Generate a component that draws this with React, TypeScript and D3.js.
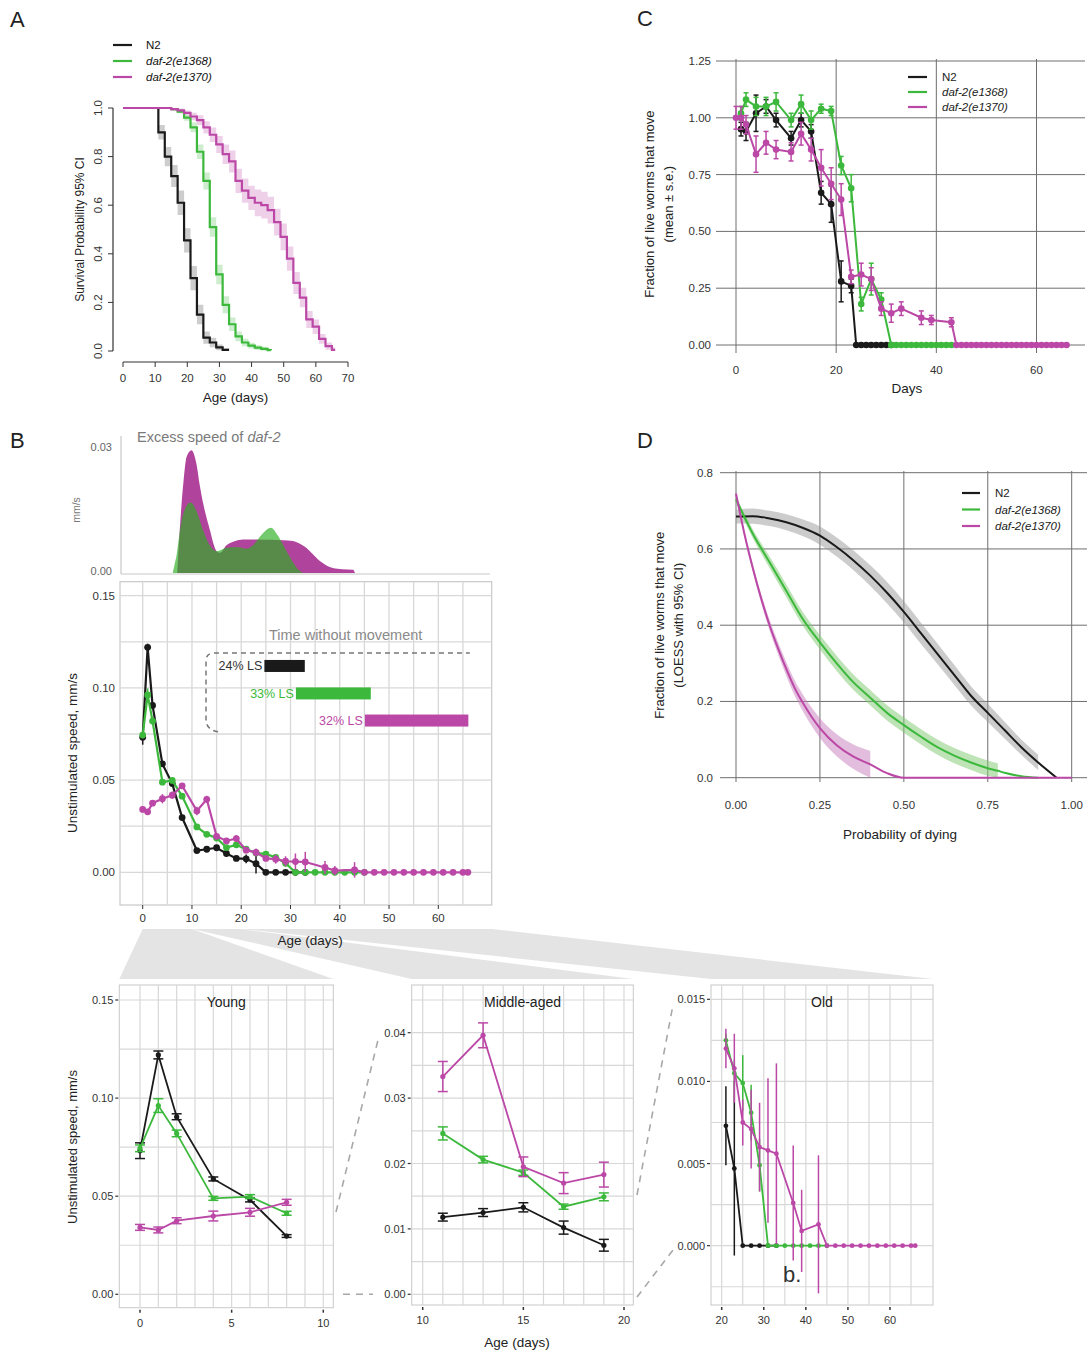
import React from 'react';
import * as d3 from 'd3';

const FONT = '"Liberation Sans", Arial, Helvetica, sans-serif';
const C_N2 = '#1a1a1a';
const C_1368 = '#3cb93c';
const C_1370 = '#bb48a6';
const strainColors = [C_N2, C_1368, C_1370];
const strainNames = ['N2', 'daf-2(e1368)', 'daf-2(e1370)'];

// ---- A: survival (Kaplan-Meier steps + CI half width)
const kmDaysN2 = [0, 11, 13, 15, 17, 19, 21, 23, 25, 27, 29, 31, 33];
const kmN2 = [1, 0.9, 0.8, 0.72, 0.61, 0.455, 0.3, 0.15, 0.055, 0.035, 0.015, 0.005, 0.005];
const kmN2Ci = [0, 0.03, 0.04, 0.045, 0.05, 0.05, 0.05, 0.04, 0.025, 0.02, 0.012, 0.006, 0.006];
const kmDays1368 = [0, 15, 17, 19, 21, 23, 25, 27, 29, 31, 33, 35, 37, 39, 41, 43, 45, 46];
const km1368 = [1, 0.995, 0.985, 0.96, 0.92, 0.82, 0.7, 0.51, 0.315, 0.19, 0.11, 0.06, 0.035, 0.022, 0.014, 0.009, 0.004, 0.003];
const km1368Ci = [0, 0.005, 0.008, 0.012, 0.02, 0.03, 0.035, 0.04, 0.04, 0.035, 0.028, 0.02, 0.015, 0.012, 0.01, 0.008, 0.005, 0.005];
const kmDays1370 = [0, 15, 17, 19, 21, 23, 25, 27, 29, 31, 33, 35, 37, 39, 41, 43, 45, 47, 49, 51, 53, 55, 57, 59, 61, 63, 65, 66];
const km1370 = [1, 0.995, 0.99, 0.98, 0.965, 0.95, 0.92, 0.89, 0.85, 0.81, 0.78, 0.7, 0.66, 0.63, 0.61, 0.6, 0.58, 0.53, 0.47, 0.38, 0.28, 0.22, 0.13, 0.1, 0.05, 0.02, 0.005, 0.005];
const km1370Ci = [0, 0.005, 0.008, 0.01, 0.015, 0.02, 0.025, 0.03, 0.035, 0.04, 0.045, 0.05, 0.05, 0.05, 0.055, 0.055, 0.055, 0.055, 0.055, 0.05, 0.045, 0.04, 0.035, 0.03, 0.02, 0.015, 0.01, 0.01];

// ---- B: unstimulated speed (mean, s.e.)
const spDaysN2 = [0, 1, 2, 4, 6, 8, 11, 13, 15, 17, 19, 21, 23, 25, 27, 29, 31, 33];
const spN2 = [0.0732, 0.122, 0.0905, 0.0588, 0.0481, 0.0297, 0.0118, 0.0125, 0.0133, 0.0102, 0.0075, 0.0073, 0.0047, 0, 0, 0, 0, 0];
const spN2Se = [0.004, 0.002, 0.0015, 0.001, 0.001, 0.0007, 0.0006, 0.0006, 0.0007, 0.001, 0.0009, 0.0024, 0.0053, 0, 0, 0, 0, 0];
const spDays1368 = [0, 1, 2, 4, 6, 8, 11, 13, 15, 17, 19, 21, 23, 25, 27, 29, 31, 33, 35, 37, 39, 41, 43, 45];
const sp1368 = [0.0744, 0.0962, 0.082, 0.0489, 0.0498, 0.0413, 0.0246, 0.0206, 0.0186, 0.0134, 0.0149, 0.0125, 0.0105, 0.0099, 0.0081, 0.0049, 0, 0, 0, 0, 0, 0, 0, 0];
const sp1368Se = [0.0017, 0.0035, 0.0017, 0.001, 0.001, 0.001, 0.001, 0.0005, 0.0004, 0.0004, 0.0006, 0.0004, 0.0008, 0.0017, 0.0017, 0.0016, 0, 0, 0, 0, 0, 0, 0, 0];
const spDays1370 = [0, 1, 2, 4, 6, 8, 11, 13, 15, 17, 19, 21, 23, 25, 27, 29, 31, 33, 37, 39, 43, 45, 47, 49, 51, 53, 55, 57, 59, 61, 63, 65, 66];
const sp1370 = [0.0341, 0.0328, 0.0375, 0.0399, 0.0418, 0.0469, 0.0333, 0.0396, 0.0195, 0.017, 0.0183, 0.012, 0.0108, 0.0075, 0.0071, 0.006, 0.0058, 0.0056, 0.0026, 0.0009, 0.0013, 0, 0, 0, 0, 0, 0, 0, 0, 0, 0, 0, 0];
const sp1370Se = [0.0015, 0.0015, 0.0015, 0.0025, 0.002, 0.0015, 0.0023, 0.0019, 0.0015, 0.0016, 0.0019, 0.0012, 0.0021, 0.0014, 0.0024, 0.0027, 0.0044, 0.0055, 0.0035, 0.0025, 0.0042, 0, 0, 0, 0, 0, 0, 0, 0, 0, 0, 0, 0];

// excess speed of daf-2 over N2
const exDays1370 = [7.0, 7.3, 7.8, 8.3, 8.9, 9.9, 10.9, 11.6, 12.3, 13, 13.7, 14.3, 15, 15.7, 17, 18.5, 20.4, 23, 26, 28.5, 30.5, 32, 33.2, 34.5, 35.9, 37.3, 38.6, 40.5, 42.7, 43.1];
const ex1370 = [0, 0.006, 0.015, 0.022, 0.0276, 0.0292, 0.026, 0.0208, 0.0164, 0.013, 0.01, 0.0072, 0.0052, 0.0048, 0.0066, 0.0075, 0.008, 0.008, 0.0079, 0.0078, 0.0076, 0.0069, 0.006, 0.0045, 0.0029, 0.0018, 0.0012, 0.0009, 0.0008, 0];
const exDays1368 = [6.1, 6.5, 6.9, 7.4, 7.9, 8.9, 9.75, 10.9, 12.3, 13.7, 15, 17, 19, 21.1, 22.4, 23.5, 24.5, 26, 27.5, 29.2, 30.6, 31.6, 32.6];
const ex1368 = [0, 0.0022, 0.0044, 0.0088, 0.0124, 0.016, 0.0168, 0.0148, 0.01, 0.0064, 0.0052, 0.006, 0.0062, 0.0058, 0.0066, 0.0082, 0.0096, 0.0108, 0.0088, 0.0052, 0.0024, 0.0008, 0];

// time without movement
const noMoveStart = [24.7, 31.1, 45.1];
const noMoveEnd = [32.9, 46.3, 66.1];
const noMoveLabels = ['24% LS', '33% LS', '32% LS'];

// ---- C: fraction moving (mean, s.e.)
const mvDaysN2 = [1, 2, 4, 6, 8, 11, 13, 15, 17, 19, 21, 23, 24, 25, 26, 27, 28, 29, 30, 31];
const mvN2 = [0.95, 0.94, 1.02, 1.05, 0.99, 0.91, 0.99, 0.94, 0.67, 0.62, 0.28, 0.26, 0, 0, 0, 0, 0, 0, 0, 0];
const mvN2Se = [0.03, 0.04, 0.08, 0.03, 0.03, 0.03, 0.03, 0.03, 0.05, 0.08, 0.09, 0.03, 0, 0, 0, 0, 0, 0, 0, 0];
const mvDays1368 = [1, 2, 4, 6, 8, 11, 13, 15, 17, 19, 21, 23, 25, 27, 29, 31, 32, 33, 34, 35, 36, 37, 38, 39, 40, 41, 42, 43];
const mv1368 = [1.02, 1.08, 1.05, 1.05, 1.07, 0.99, 1.06, 0.99, 1.04, 1.03, 0.79, 0.69, 0.18, 0.29, 0.2, 0, 0, 0, 0, 0, 0, 0, 0, 0, 0, 0, 0, 0];
const mv1368Se = [0.03, 0.03, 0.04, 0.04, 0.04, 0.03, 0.04, 0.04, 0.02, 0.02, 0.04, 0.06, 0.03, 0.07, 0.03, 0, 0, 0, 0, 0, 0, 0, 0, 0, 0, 0, 0, 0];
const mvDays1370 = [0, 1, 2, 4, 6, 8, 11, 13, 15, 17, 19, 21, 23, 25, 27, 29, 31, 33, 37, 39, 43, 44, 45, 46, 47, 48, 49, 50, 51, 52, 53, 54, 55, 56, 57, 58, 59, 60, 61, 62, 63, 64, 65, 66];
const mv1370 = [1.0, 1.0, 0.97, 0.84, 0.89, 0.86, 0.85, 0.93, 0.86, 0.78, 0.71, 0.64, 0.3, 0.31, 0.29, 0.16, 0.14, 0.16, 0.12, 0.11, 0.1, 0, 0, 0, 0, 0, 0, 0, 0, 0, 0, 0, 0, 0, 0, 0, 0, 0, 0, 0, 0, 0, 0, 0];
const mv1370Se = [0.05, 0.05, 0.04, 0.08, 0.05, 0.04, 0.04, 0.05, 0.05, 0.08, 0.07, 0.07, 0.03, 0.05, 0.05, 0.03, 0.04, 0.03, 0.03, 0.02, 0.02, 0, 0, 0, 0, 0, 0, 0, 0, 0, 0, 0, 0, 0, 0, 0, 0, 0, 0, 0, 0, 0, 0, 0];

// ---- D: LOESS fraction moving vs probability of dying
const pdN2 = [0, 0.05, 0.1, 0.15, 0.2, 0.25, 0.3, 0.35, 0.4, 0.45, 0.5, 0.55, 0.6, 0.65, 0.7, 0.75, 0.8, 0.85, 0.9, 0.955];
const loN2 = [0.685, 0.686, 0.68, 0.67, 0.655, 0.635, 0.605, 0.57, 0.53, 0.485, 0.435, 0.38, 0.325, 0.27, 0.215, 0.17, 0.125, 0.08, 0.04, 0];
const loN2Ci = [0.018, 0.02, 0.02, 0.021, 0.022, 0.024, 0.025, 0.026, 0.027, 0.028, 0.028, 0.028, 0.027, 0.026, 0.025, 0.024, 0.022, 0.02, 0.02, 0.02];
const pd1368 = [0, 0.05, 0.1, 0.15, 0.2, 0.25, 0.3, 0.35, 0.4, 0.45, 0.5, 0.55, 0.6, 0.65, 0.7, 0.75, 0.78, 0.8, 0.85, 0.9];
const lo1368 = [0.73, 0.64, 0.565, 0.49, 0.415, 0.355, 0.3, 0.25, 0.21, 0.17, 0.138, 0.108, 0.08, 0.058, 0.04, 0.025, 0.018, 0.013, 0.004, 0];
const lo1368Ci = [0.008, 0.012, 0.015, 0.017, 0.018, 0.019, 0.02, 0.02, 0.02, 0.02, 0.02, 0.02, 0.02, 0.02, 0.02, 0.02, 0.02, 0, 0, 0];
const pd1370 = [0, 0.025, 0.05, 0.075, 0.1, 0.125, 0.15, 0.175, 0.2, 0.225, 0.25, 0.3, 0.35, 0.4, 0.45, 0.5, 0.6, 0.8, 1.0];
const lo1370 = [0.745, 0.64, 0.55, 0.47, 0.4, 0.34, 0.285, 0.235, 0.195, 0.16, 0.13, 0.085, 0.055, 0.035, 0.012, 0, 0, 0, 0];
const lo1370Ci = [0.005, 0.008, 0.01, 0.012, 0.014, 0.016, 0.018, 0.02, 0.022, 0.024, 0.026, 0.029, 0.032, 0.035, 0, 0, 0, 0, 0];
const ciEnd = [0.91, 0.78, 0.4];

const zip = (days: number[], vals: number[], se: number[]) =>
  days.map((d, i) => ({ d, v: vals[i], e: se[i] }));

const Italic = ({ name }: { name: string }) =>
  name === 'N2' ? <tspan>{name}</tspan> : <tspan fontStyle="italic">{name}</tspan>;

// ================= Panel A
const PanelA = () => {
  const x = d3.scaleLinear().domain([0, 70]).range([123, 348]);
  const y = d3.scaleLinear().domain([0, 1]).range([351, 108]);
  const series = [
    { pts: zip(kmDaysN2, kmN2, kmN2Ci), c: C_N2 },
    { pts: zip(kmDays1368, km1368, km1368Ci), c: C_1368 },
    { pts: zip(kmDays1370, km1370, km1370Ci), c: C_1370 },
  ];
  const line = d3.line<any>().x(p => x(p.d)).y(p => y(p.v)).curve(d3.curveStepAfter);
  const area = d3.area<any>().x(p => x(p.d)).y0(p => y(Math.max(0, p.v - p.e))).y1(p => y(Math.min(1, p.v + p.e))).curve(d3.curveStepAfter);
  return (
    <g>
      <text x={10} y={27} fontSize={22} fill="#222">A</text>
      {strainNames.map((n, i) => (
        <g key={n}>
          <line x1={113} x2={132} y1={45 + i * 16} y2={45 + i * 16} stroke={strainColors[i]} strokeWidth={2.2} />
          <text x={146} y={49 + i * 16} fontSize={11.5} fill="#111"><Italic name={n} /></text>
        </g>
      ))}
      {series.map((s, i) => (
        <path key={'a' + i} d={area(s.pts) || ''} fill={s.c} opacity={i === 0 ? 0.22 : 0.25} />
      ))}
      {series.map((s, i) => (
        <path key={'l' + i} d={line(s.pts) || ''} fill="none" stroke={s.c} strokeWidth={2.2} />
      ))}
      {/* y axis */}
      <line x1={113} x2={113} y1={y(1)} y2={y(0)} stroke="#333" strokeWidth={1.2} />
      {y.ticks(5).map(t => (
        <g key={t}>
          <line x1={108} x2={113} y1={y(t)} y2={y(t)} stroke="#333" />
          <text transform={`translate(${102},${y(t)}) rotate(-90)`} textAnchor="middle" fontSize={11.5} fill="#333">{t.toFixed(1)}</text>
        </g>
      ))}
      {/* x axis */}
      <line x1={x(0)} x2={x(70)} y1={362} y2={362} stroke="#333" strokeWidth={1.2} />
      {x.ticks(7).map(t => (
        <g key={t}>
          <line x1={x(t)} x2={x(t)} y1={362} y2={367} stroke="#333" />
          <text x={x(t)} y={382} textAnchor="middle" fontSize={11.5} fill="#333">{t}</text>
        </g>
      ))}
      <text x={x(35)} y={402} textAnchor="middle" fontSize={13.5} fill="#222">Age (days)</text>
      <text transform={`translate(84,${y(0.5)}) rotate(-90)`} textAnchor="middle" fontSize={12} fill="#222">Survival Probability 95% CI</text>
    </g>
  );
};

// ================= Panel C
const PanelC = () => {
  const x = d3.scaleLinear().domain([0, 60]).range([736, 1036.5]);
  const y = d3.scaleLinear().domain([0, 1.25]).range([345, 61]);
  const series = [
    { pts: zip(mvDaysN2, mvN2, mvN2Se), c: C_N2 },
    { pts: zip(mvDays1368, mv1368, mv1368Se), c: C_1368 },
    { pts: zip(mvDays1370, mv1370, mv1370Se), c: C_1370 },
  ];
  const line = d3.line<any>().x(p => x(p.d)).y(p => y(p.v));
  const grid = '#6e6e6e';
  return (
    <g>
      <text x={637} y={26} fontSize={22} fill="#222">C</text>
      {[0, 0.25, 0.5, 0.75, 1, 1.25].map(t => (
        <g key={t}>
          <line x1={716} x2={1085} y1={y(t)} y2={y(t)} stroke={grid} strokeWidth={1} />
          <text x={711} y={y(t) + 4} textAnchor="end" fontSize={11.5} fill="#333">{t.toFixed(2)}</text>
        </g>
      ))}
      {[0, 20, 40, 60].map(t => (
        <g key={t}>
          <line x1={x(t)} x2={x(t)} y1={59} y2={353} stroke={grid} strokeWidth={1} />
          <text x={x(t)} y={374} textAnchor="middle" fontSize={11.5} fill="#333">{t}</text>
        </g>
      ))}
      {series.map((s, i) => (
        <g key={i}>
          <path d={line(s.pts) || ''} fill="none" stroke={s.c} strokeWidth={2} />
          {s.pts.filter(p => p.e > 0).map((p, j) => (
            <g key={j} stroke={s.c} strokeWidth={1.5}>
              <line x1={x(p.d)} x2={x(p.d)} y1={y(p.v - p.e)} y2={y(p.v + p.e)} />
              <line x1={x(p.d) - 2.5} x2={x(p.d) + 2.5} y1={y(p.v - p.e)} y2={y(p.v - p.e)} />
              <line x1={x(p.d) - 2.5} x2={x(p.d) + 2.5} y1={y(p.v + p.e)} y2={y(p.v + p.e)} />
            </g>
          ))}
          {s.pts.map((p, j) => (
            <circle key={j} cx={x(p.d)} cy={y(p.v)} r={3.3} fill={s.c} />
          ))}
        </g>
      ))}
      {strainNames.map((n, i) => (
        <g key={n}>
          <line x1={908} x2={927} y1={77 + i * 15} y2={77 + i * 15} stroke={strainColors[i]} strokeWidth={2.2} />
          <text x={942} y={81 + i * 15} fontSize={11.5} fill="#222"><Italic name={n} /></text>
        </g>
      ))}
      <text x={907} y={393} textAnchor="middle" fontSize={13.5} fill="#222">Days</text>
      <text transform={`translate(654,${y(0.62)}) rotate(-90)`} textAnchor="middle" fontSize={13} fill="#222">Fraction of live worms that move</text>
      <text transform={`translate(673,${y(0.62)}) rotate(-90)`} textAnchor="middle" fontSize={13} fill="#222">(mean ± s.e.)</text>
    </g>
  );
};

// ================= Panel D
const PanelD = () => {
  const x = d3.scaleLinear().domain([0, 1]).range([736, 1071.7]);
  const y = d3.scaleLinear().domain([0, 0.8]).range([777.7, 472.7]);
  const series = [
    { pts: zip(pdN2, loN2, loN2Ci), c: C_N2, band: '#9a9a9a' },
    { pts: zip(pd1368, lo1368, lo1368Ci), c: C_1368, band: '#7cc86e' },
    { pts: zip(pd1370, lo1370, lo1370Ci), c: C_1370, band: '#c77cbc' },
  ];
  const line = d3.line<any>().x(p => x(p.d)).y(p => y(p.v)).curve(d3.curveMonotoneX);
  const area = d3.area<any>().x(p => x(p.d)).y0(p => y(Math.max(0, p.v - p.e))).y1(p => y(p.v + p.e)).curve(d3.curveMonotoneX);
  const grid = '#6e6e6e';
  return (
    <g>
      <text x={637} y={448} fontSize={22} fill="#222">D</text>
      {[0, 0.2, 0.4, 0.6, 0.8].map(t => (
        <g key={t}>
          <line x1={720} x2={1087} y1={y(t)} y2={y(t)} stroke={grid} strokeWidth={1} />
          <text x={713} y={y(t) + 4} textAnchor="end" fontSize={11.5} fill="#333">{t.toFixed(1)}</text>
        </g>
      ))}
      {[0, 0.25, 0.5, 0.75, 1].map(t => (
        <g key={t}>
          <line x1={x(t)} x2={x(t)} y1={471} y2={782} stroke={grid} strokeWidth={1} />
          <text x={x(t)} y={809} textAnchor="middle" fontSize={11.5} fill="#333">{t.toFixed(2)}</text>
        </g>
      ))}
      {series.map((s, i) => (
        <path key={'b' + i} d={area(s.pts.filter(p => p.d <= ciEnd[i] + 1e-9 && p.e > 0)) || ''} fill={s.band} opacity={0.5} />
      ))}
      {series.map((s, i) => (
        <path key={'l' + i} d={line(s.pts) || ''} fill="none" stroke={s.c} strokeWidth={2} />
      ))}
      {strainNames.map((n, i) => (
        <g key={n}>
          <line x1={962} x2={980} y1={493 + i * 16.5} y2={493 + i * 16.5} stroke={strainColors[i]} strokeWidth={2.2} />
          <text x={995} y={497 + i * 16.5} fontSize={11.5} fill="#222"><Italic name={n} /></text>
        </g>
      ))}
      <text x={900} y={839} textAnchor="middle" fontSize={13.5} fill="#222">Probability of dying</text>
      <text transform={`translate(664,${y(0.4)}) rotate(-90)`} textAnchor="middle" fontSize={13} fill="#222">Fraction of live worms that move</text>
      <text transform={`translate(683,${y(0.4)}) rotate(-90)`} textAnchor="middle" fontSize={13} fill="#222">(LOESS with 95% CI)</text>
    </g>
  );
};

const speedSeries = [
  { pts: zip(spDaysN2, spN2, spN2Se), c: C_N2 },
  { pts: zip(spDays1368, sp1368, sp1368Se), c: C_1368 },
  { pts: zip(spDays1370, sp1370, sp1370Se), c: C_1370 },
];

const GRID_B = '#d8d8d8';
const BORDER_B = '#c8c8c8';

// ================= Panel B
const xB = d3.scaleLinear().domain([0, 60]).range([142.7, 438.3]);
const yB = d3.scaleLinear().domain([0, 0.15]).range([872.3, 595.7]);
const PANEL_B = { x0: 120, x1: 491.7, y0: 581.7, y1: 905 };

const PanelB = () => {
  const yE = d3.scaleLinear().domain([0, 0.03]).range([573, 447]);
  const areaE = d3.area<any>().x(p => xB(p.d)).y0(yE(0)).y1(p => yE(p.v)).curve(d3.curveMonotoneX);
  const ex70 = exDays1370.map((d, i) => ({ d, v: ex1370[i] }));
  const ex68 = exDays1368.map((d, i) => ({ d, v: ex1368[i] }));
  const line = d3.line<any>().x(p => xB(p.d)).y(p => yB(p.v));
  const vGrid = d3.range(0, 70, 5);
  const hGrid = d3.range(0, 0.1501, 0.025);
  const barY = [0.1119, 0.097, 0.0823];
  const bx0 = xB(12.85), by0 = yB(0.1189);
  const bracket = `M${xB(15.3)},${yB(0.0762)} Q${bx0},${yB(0.0762) - 2} ${bx0},${yB(0.083)} L${bx0},${by0 + 8} Q${bx0},${by0} ${bx0 + 8},${by0} L${xB(66.4)},${by0}`;
  return (
    <g>
      <text x={10} y={448} fontSize={22} fill="#222">B</text>
      {/* excess speed */}
      <line x1={121} x2={121} y1={436} y2={574} stroke={BORDER_B} strokeWidth={1.2} />
      <line x1={121} x2={490} y1={574} y2={574} stroke={BORDER_B} strokeWidth={1.2} />
      <path d={areaE(ex70) || ''} fill="#b0449c" />
      <path d={areaE(ex68) || ''} fill="#2aae20" opacity={0.66} />
      <text x={112} y={yE(0.03) + 4} textAnchor="end" fontSize={11} fill="#666">0.03</text>
      <text x={112} y={yE(0) + 2} textAnchor="end" fontSize={11} fill="#666">0.00</text>
      <text transform={`translate(80,${510}) rotate(-90)`} textAnchor="middle" fontSize={10.5} fill="#777">mm/s</text>
      <text x={137} y={442} fontSize={14.5} fill="#7a7a7a">Excess speed of <tspan fontStyle="italic">daf-2</tspan></text>
      {/* main */}
      <rect x={PANEL_B.x0} y={PANEL_B.y0} width={PANEL_B.x1 - PANEL_B.x0} height={PANEL_B.y1 - PANEL_B.y0} fill="#fff" stroke={BORDER_B} strokeWidth={1.2} />
      {vGrid.map(t => (
        <line key={t} x1={xB(t)} x2={xB(t)} y1={PANEL_B.y0} y2={PANEL_B.y1} stroke={GRID_B} strokeWidth={1.3} />
      ))}
      {hGrid.map(t => (
        <line key={t} x1={PANEL_B.x0} x2={PANEL_B.x1} y1={yB(t)} y2={yB(t)} stroke={GRID_B} strokeWidth={1.3} />
      ))}
      {[0, 0.05, 0.1, 0.15].map(t => (
        <text key={t} x={115} y={yB(t) + 4} textAnchor="end" fontSize={11.5} fill="#333">{t.toFixed(2)}</text>
      ))}
      {d3.range(0, 61, 10).map(t => (
        <g key={t}>
          <line x1={xB(t)} x2={xB(t)} y1={905} y2={909} stroke="#333" />
          <text x={xB(t)} y={922} textAnchor="middle" fontSize={11.5} fill="#333">{t}</text>
        </g>
      ))}
      <text transform={`translate(77,${753}) rotate(-90)`} textAnchor="middle" fontSize={13.5} fill="#222">Unstimulated speed, mm/s</text>
      {/* time without movement */}
      <text x={xB(41.2)} y={640} textAnchor="middle" fontSize={14.5} fill="#8a8a8a">Time without movement</text>
      <path d={bracket} fill="none" stroke="#777" strokeWidth={1.5} strokeDasharray="5,4" />
      {noMoveLabels.map((l, i) => (
        <g key={l}>
          <rect x={xB(noMoveStart[i])} y={yB(barY[i]) - 6} width={xB(noMoveEnd[i]) - xB(noMoveStart[i])} height={12} fill={strainColors[i]} />
          <text x={xB(noMoveStart[i]) - 2} y={yB(barY[i]) + 4.5} textAnchor="end" fontSize={12.5} fill={i === 0 ? '#333' : strainColors[i]}>{l}</text>
        </g>
      ))}
      {speedSeries.map((s, i) => (
        <g key={i}>
          {s.pts.filter(p => p.e > 0).map((p, j) => (
            <line key={j} x1={xB(p.d)} x2={xB(p.d)} y1={yB(p.v - p.e)} y2={yB(p.v + p.e)} stroke={s.c} strokeWidth={1.5} />
          ))}
          <path d={line(s.pts) || ''} fill="none" stroke={s.c} strokeWidth={2.2} />
          {s.pts.map((p, j) => (
            <circle key={j} cx={xB(p.d)} cy={yB(p.v)} r={3.4} fill={s.c} />
          ))}
        </g>
      ))}
    </g>
  );
};

// ================= zoomed sub panels
type ZP = {
  x: d3.ScaleLinear<number, number>;
  y: d3.ScaleLinear<number, number>;
  rect: { x0: number; x1: number; y0: number; y1: number };
  dayRange: [number, number];
  vGrid: number[];
  hGrid: number[];
  xTicks: number[];
  yTicks: number[];
  yFmt: (v: number) => string;
  title: string;
  caps: boolean;
};

const ZoomPanel = ({ x, y, rect, dayRange, vGrid, hGrid, xTicks, yTicks, yFmt, title, caps }: ZP) => {
  const line = d3.line<any>().x(p => x(p.d)).y(p => y(p.v));
  return (
    <g>
      <rect x={rect.x0} y={rect.y0} width={rect.x1 - rect.x0} height={rect.y1 - rect.y0} fill="#fff" stroke={BORDER_B} strokeWidth={1} />
      {vGrid.map(t => (
        <line key={t} x1={x(t)} x2={x(t)} y1={rect.y0} y2={rect.y1} stroke={GRID_B} strokeWidth={1.2} />
      ))}
      {hGrid.map(t => (
        <line key={t} x1={rect.x0} x2={rect.x1} y1={y(t)} y2={y(t)} stroke={GRID_B} strokeWidth={1.2} />
      ))}
      {yTicks.map(t => (
        <g key={t}>
          <line x1={rect.x0 - 4} x2={rect.x0 - 1} y1={y(t)} y2={y(t)} stroke="#333" strokeWidth={1.2} />
          <text x={rect.x0 - 6} y={y(t) + 4} textAnchor="end" fontSize={11} fill="#333">{yFmt(t)}</text>
        </g>
      ))}
      {xTicks.map(t => (
        <g key={t}>
          <line x1={x(t)} x2={x(t)} y1={rect.y1 + 2} y2={rect.y1 + 5} stroke="#333" strokeWidth={1.5} />
          <text x={x(t)} y={rect.y1 + 19} textAnchor="middle" fontSize={11} fill="#333">{t}</text>
        </g>
      ))}
      <text x={(rect.x0 + rect.x1) / 2} y={rect.y0 + 22} textAnchor="middle" fontSize={14} fill="#222">{title}</text>
      {speedSeries.map((s, i) => {
        const pts = s.pts.filter(p => p.d >= dayRange[0] && p.d <= dayRange[1]);
        return (
          <g key={i}>
            <path d={line(pts) || ''} fill="none" stroke={s.c} strokeWidth={1.8} />
            {pts.filter(p => p.e > 0).map((p, j) => (
              <g key={j} stroke={s.c} strokeWidth={1.5}>
                <line x1={x(p.d)} x2={x(p.d)} y1={y(p.v - p.e)} y2={y(p.v + p.e)} />
                {caps && <line x1={x(p.d) - 5} x2={x(p.d) + 5} y1={y(p.v - p.e)} y2={y(p.v - p.e)} />}
                {caps && <line x1={x(p.d) - 5} x2={x(p.d) + 5} y1={y(p.v + p.e)} y2={y(p.v + p.e)} />}
              </g>
            ))}
            {pts.map((p, j) => (
              <circle key={j} cx={x(p.d)} cy={y(p.v)} r={caps ? 2.6 : 2.4} fill={s.c} />
            ))}
          </g>
        );
      })}
    </g>
  );
};

const ZoomPanels = () => {
  const young = { x0: 119.3, x1: 333.3, y0: 985, y1: 1307.7 };
  const mid = { x0: 411.7, x1: 633.3, y0: 985, y1: 1305 };
  const old = { x0: 711, x1: 933, y0: 985, y1: 1305 };
  const xY = d3.scaleLinear().domain([0, 10]).range([140, 323.3]);
  const yY = d3.scaleLinear().domain([0, 0.15]).range([1294.3, 1000]);
  const xM = d3.scaleLinear().domain([10, 20]).range([422.7, 624]);
  const yM = d3.scaleLinear().domain([0, 0.04]).range([1294.3, 1032.7]);
  const xO = d3.scaleLinear().domain([20, 60]).range([721.7, 890]);
  const yO = d3.scaleLinear().domain([0, 0.015]).range([1245.7, 999.3]);
  const topY = 929;
  const wedges = [
    [[xB(0), topY], [xB(10), topY], [young.x1, 979], [young.x0, 979]],
    [[xB(10), topY], [xB(20), topY], [mid.x1, 979], [mid.x0, 979]],
    [[xB(20), topY], [PANEL_B.x1, topY], [old.x1, 979], [old.x0, 979]],
  ];
  const dash = { stroke: '#a8a8a8', strokeWidth: 1.6, strokeDasharray: '7,6', fill: 'none' };
  return (
    <g>
      {wedges.map((w, i) => (
        <polygon key={i} points={w.map(p => p.join(',')).join(' ')} fill="#e4e4e4" />
      ))}
      <text x={xB(34)} y={945} textAnchor="middle" fontSize={13.5} fill="#222">Age (days)</text>
      <line x1={336} y1={1212} x2={378} y2={1040} {...dash} />
      <line x1={343} y1={yY(0)} x2={373} y2={yM(0)} {...dash} />
      <line x1={637} y1={1195} x2={673} y2={1005} {...dash} />
      <line x1={637} y1={1297} x2={673} y2={1250} {...dash} />
      <ZoomPanel x={xY} y={yY} rect={young} dayRange={[0, 9]} vGrid={d3.range(0, 11)} hGrid={d3.range(0, 0.1501, 0.025)}
        xTicks={[0, 5, 10]} yTicks={[0, 0.05, 0.1, 0.15]} yFmt={v => v.toFixed(2)} title="Young" caps={true} />
      <ZoomPanel x={xM} y={yM} rect={mid} dayRange={[10, 20]} vGrid={d3.range(10, 21)} hGrid={d3.range(0, 0.0451, 0.005)}
        xTicks={[10, 15, 20]} yTicks={[0, 0.01, 0.02, 0.03, 0.04]} yFmt={v => v.toFixed(2)} title="Middle-aged" caps={true} />
      <ZoomPanel x={xO} y={yO} rect={old} dayRange={[21, 70]} vGrid={d3.range(20, 66, 5)} hGrid={d3.range(-0.0025, 0.01501, 0.0025)}
        xTicks={[20, 30, 40, 50, 60]} yTicks={[0, 0.005, 0.01, 0.015]} yFmt={v => v.toFixed(3)} title="Old" caps={false} />
      <text transform={`translate(77,${1147}) rotate(-90)`} textAnchor="middle" fontSize={13} fill="#222">Unstimulated speed, mm/s</text>
      <text x={517} y={1347} textAnchor="middle" fontSize={13.5} fill="#222">Age (days)</text>
      <text x={783} y={1282} fontSize={22} fill="#333">b.</text>
    </g>
  );
};

const App = () => (
  <svg width={1091} height={1353} fontFamily={FONT} style={{ position: 'absolute', left: 0, top: 0 }}>
    <rect width={1091} height={1353} fill="#fff" />
    <PanelA />
    <PanelC />
    <PanelD />
    <ZoomPanels />
    <PanelB />
  </svg>
);

export default App;
